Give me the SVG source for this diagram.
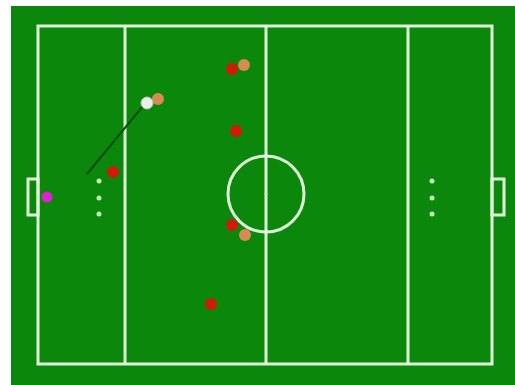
<svg xmlns="http://www.w3.org/2000/svg" width="515" height="385" viewBox="0 0 515 385">
<style>
.ln{fill:none;stroke:#dff5d8;stroke-width:3}
.dot{fill:#c8ecc0}
.red{fill:#d21a0c}
.org{fill:#d88a55}
</style>
<rect x="0" y="0" width="515" height="385" fill="#ffffff"/>
<rect x="11" y="6" width="504" height="379" fill="#0b870b"/>
<g id="field">
<rect class="ln" x="38" y="26" width="454" height="338"/>
<line class="ln" x1="125" y1="26" x2="125" y2="364"/>
<line class="ln" x1="266" y1="26" x2="266" y2="364"/>
<line class="ln" x1="408" y1="26" x2="408" y2="364"/>
<circle class="ln" cx="266" cy="194" r="38"/>
<circle class="dot" cx="266" cy="194" r="1.5"/>
<rect class="ln" x="28" y="179" width="10" height="36" stroke-width="2"/>
<rect class="ln" x="492" y="179" width="12" height="36" stroke-width="2"/>
<circle class="dot" cx="99" cy="181" r="2.5"/>
<circle class="dot" cx="99" cy="198" r="2.5"/>
<circle class="dot" cx="99" cy="214" r="2.5"/>
<circle class="dot" cx="432" cy="181" r="2.5"/>
<circle class="dot" cx="432" cy="198" r="2.5"/>
<circle class="dot" cx="432" cy="214" r="2.5"/>
</g>
<g id="connectors">
<line x1="143" y1="106" x2="87" y2="174" stroke="#0a4f12" stroke-width="2"/>
</g>
<g id="players">
<circle class="red" cx="232" cy="69" r="6"/>
<circle class="org" cx="244" cy="65" r="6"/>
<circle class="red" cx="236" cy="131" r="6"/>
<circle class="red" cx="113" cy="172" r="6"/>
<circle class="red" cx="232" cy="225" r="6"/>
<circle class="org" cx="245" cy="235" r="6"/>
<circle class="red" cx="211" cy="304" r="6"/>
<circle class="org" cx="158" cy="99" r="6"/>
<circle cx="147" cy="103" r="6" fill="#e8f0e8" stroke="#b8c8b8" stroke-width="1"/>
<circle cx="47" cy="197" r="5.5" fill="#e020d0"/>
</g>
</svg>
